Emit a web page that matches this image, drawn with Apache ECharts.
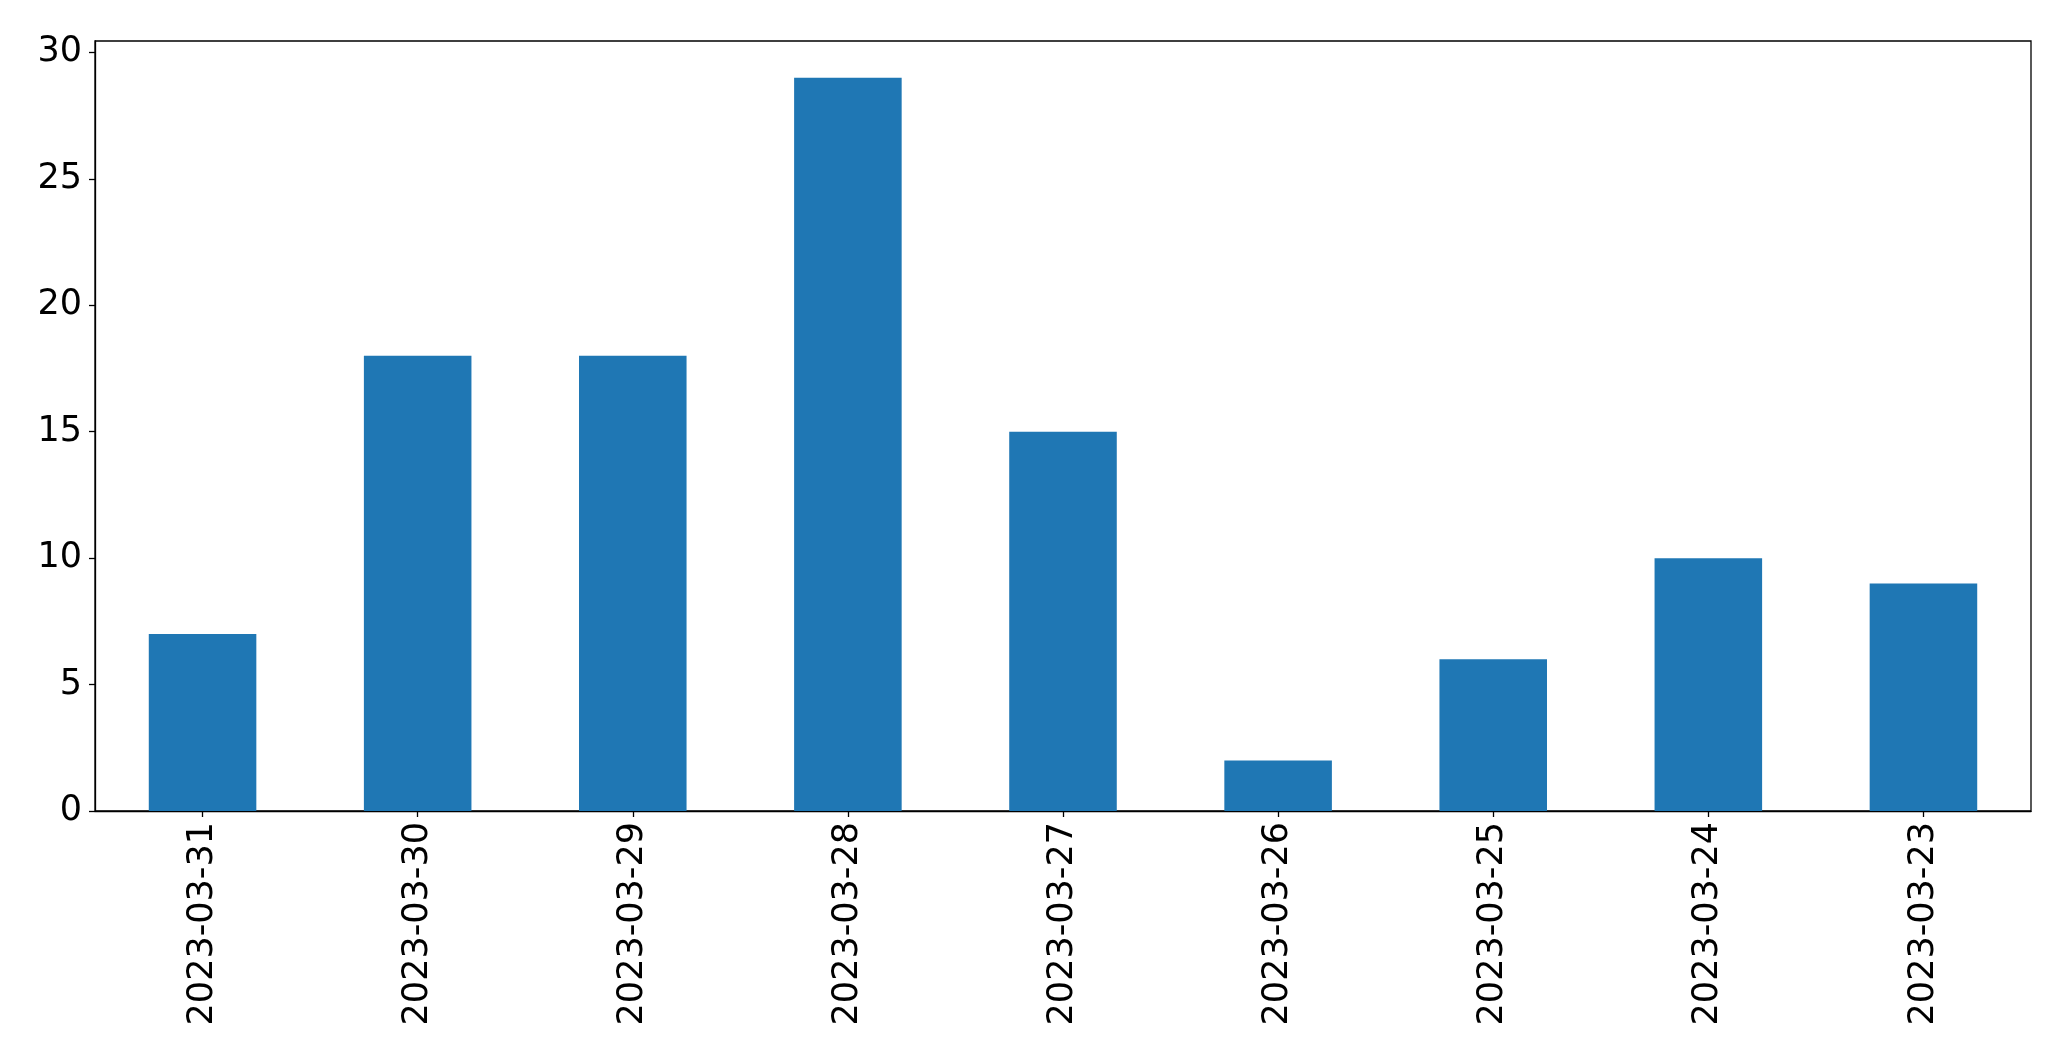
<!DOCTYPE html>
<html>
<head>
<meta charset="utf-8">
<script src="https://cdn.jsdelivr.net/npm/echarts@6/dist/echarts.min.js"></script>
<style>
  html, body { margin: 0; padding: 0; background: #fff; }
  #main { width: 2071px; height: 1063px; }
</style>
</head>
<body>
<div id="main"></div>
<script>
const dates = ['2023-03-31', '2023-03-30', '2023-03-29', '2023-03-28', '2023-03-27',
               '2023-03-26', '2023-03-25', '2023-03-24', '2023-03-23'];
const counts = [7, 18, 18, 29, 15, 2, 6, 10, 9];
const yTicks = [0, 5, 10, 15, 20, 25, 30];

const myChart = echarts.init(document.getElementById('main'));
const font = 'DejaVu Sans';

const option = {
    animation: false,
    backgroundColor: '#fff',
    grid: {
        left: 95,
        right: 40,
        top: 41,
        bottom: 252,
        show: true,
        borderColor: '#000',
        borderWidth: 1.3,
        backgroundColor: 'transparent'
    },
    xAxis: {
        type: 'category',
        data: dates,
        boundaryGap: true,
        axisLine: {show: true, lineStyle: {color: '#000', width: 1.3}},
        axisTick: {show: true, alignWithLabel: true, length: 6, lineStyle: {color: '#000', width: 1.3}},
        axisLabel: {
            rotate: 90,
            color: '#000',
            fontFamily: font,
            fontSize: 35,
            margin: 11,
            interval: 0
        },
        splitLine: {show: false}
    },
    yAxis: {
        type: 'value',
        min: 0,
        max: 30.45,
        axisLine: {show: true, lineStyle: {color: '#000', width: 1.3}},
        axisTick: {show: true, length: 6, customValues: yTicks, lineStyle: {color: '#000', width: 1.3}},
        axisLabel: {
            color: '#000',
            fontFamily: font,
            fontSize: 35,
            margin: 13,
            padding: [5, 0, 0, 0],
            customValues: yTicks
        },
        splitLine: {show: false}
    },
    series: [{
        type: 'bar',
        data: counts,
        barWidth: '50%',
        itemStyle: {color: '#1f77b4'}
    }]
};

myChart.setOption(option);
</script>
</body>
</html>
